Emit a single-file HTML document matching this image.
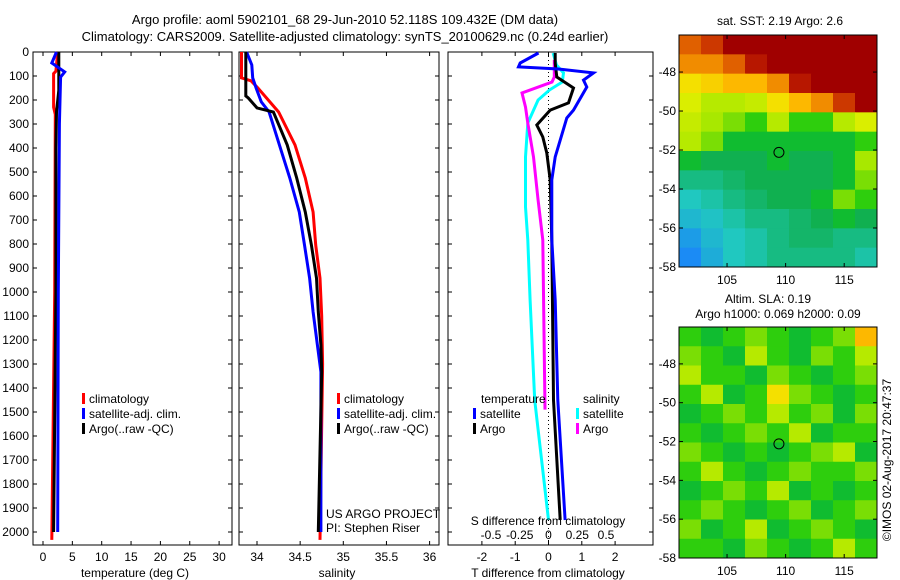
<!DOCTYPE html>
<html><head><meta charset="utf-8"><style>
body{margin:0;background:#fff}
svg{display:block;font-family:"Liberation Sans",sans-serif;font-size:12px}
</style></head><body>
<svg id="fig" width="900" height="580" viewBox="0 0 900 580">
<text x="345" y="24" text-anchor="middle" font-size="13">Argo profile: aoml 5902101_68 29-Jun-2010 52.118S 109.432E (DM data)</text>
<text x="345" y="41" text-anchor="middle" font-size="13">Climatology: CARS2009. Satellite-adjusted climatology: synTS_20100629.nc (0.24d earlier)</text>
<g id="g"></g>
</svg>
<script>
// ---- temperature panel data (depth m, value degC)
const tClimD=[0,80,90,130,230,260,1000,2033];
const tClimV=[2.5,2.2,1.8,1.8,1.8,2.1,2.0,1.5];
const tSatD=[0,46,83,104,300,1000,2000];
const tSatV=[2.3,1.5,3.7,3.0,2.8,2.6,2.5];
const tArgoD=[0,160,250,400,1000,2000];
const tArgoV=[2.7,2.7,2.3,2.2,2.2,1.8];
// ---- salinity panel data
const sClimD=[0,108,120,150,250,387,525,667,804,942,1100,1300,2033];
const sClimV=[33.82,33.82,33.93,34.01,34.25,34.44,34.56,34.65,34.68,34.73,34.75,34.76,34.73];
const sSatD=[0,54,108,150,208,250,387,525,667,804,942,1083,1221,1333,2000];
const sSatV=[33.88,33.94,33.95,33.99,34.05,34.14,34.26,34.38,34.49,34.55,34.61,34.65,34.70,34.74,34.74];
const sArgoD=[0,183,192,233,250,387,525,667,804,942,1083,1221,1333,2000];
const sArgoV=[33.87,33.87,33.90,34.0,34.19,34.35,34.46,34.56,34.63,34.69,34.71,34.74,34.75,34.71];
// ---- difference panel data
const dTSatD=[4,46,62,71,87,117,146,242,275,437,533,783,1033,1450,1950];
const dTSatV=[-0.3,-0.85,-0.9,0.3,1.35,1.05,1.15,0.75,0.55,0.2,0.1,0.1,0.2,0.28,0.5];
const dTArgoD=[4,46,104,150,212,242,304,354,421,533,783,1450,1950];
const dTArgoV=[0.2,0.2,0.25,0.75,0.6,0.05,-0.35,-0.17,-0.05,0.05,0.1,0.15,0.35];
const dSSatD=[4,54,87,125,158,200,296,437,646,783,1033,1450,1950];
const dSSatV=[0.04,0.07,0.13,0.12,0.01,-0.09,-0.18,-0.2,-0.2,-0.18,-0.16,-0.12,0];
const dSArgoD=[33,104,125,171,229,296,437,617,783,1490];
const dSArgoV=[0.05,0.05,0.03,-0.23,-0.2,-0.18,-0.13,-0.09,-0.05,-0.03];
// ---- ticks
const depthTicks=[0,100,200,300,400,500,600,700,800,900,1000,1100,1200,1300,1400,1500,1600,1700,1800,1900,2000];
const tTicks=[0,5,10,15,20,25,30];
const sTicks=[34,34.5,35,35.5,36];
const sTickLabels=["34","34.5","35","35.5","36"];
const dTTicks=[-2,-1,0,1,2];
const dSTicks=[-0.5,-0.25,0,0.25,0.5];
const latTicks=[-48,-50,-52,-54,-56,-58];
const lonTicks=[105,110,115];
// ---- maps (rows north->south, cols west->east, normalised colour value)
const sstGrid=[
[0.85,0.9,1,1,1,1,1,1,1],
[0.8,0.8,0.85,0.95,1,1,1,1,1],
[0.7,0.72,0.75,0.75,0.8,0.95,1,1,1],
[0.65,0.6,0.6,0.62,0.7,0.75,0.8,0.9,1],
[0.62,0.58,0.55,0.5,0.6,0.5,0.5,0.6,0.65],
[0.6,0.55,0.45,0.45,0.45,0.45,0.45,0.45,0.5],
[0.45,0.42,0.42,0.42,0.45,0.42,0.42,0.45,0.58],
[0.38,0.38,0.4,0.42,0.42,0.42,0.42,0.45,0.55],
[0.33,0.35,0.38,0.4,0.42,0.42,0.45,0.55,0.5],
[0.3,0.32,0.35,0.38,0.38,0.4,0.42,0.45,0.42],
[0.25,0.3,0.33,0.35,0.38,0.4,0.4,0.38,0.38],
[0.22,0.28,0.33,0.35,0.38,0.38,0.38,0.38,0.35]];
const slaGrid=[
[0.5,0.45,0.5,0.55,0.5,0.45,0.5,0.55,0.75],
[0.55,0.5,0.45,0.6,0.5,0.45,0.55,0.5,0.6],
[0.6,0.5,0.5,0.45,0.55,0.5,0.45,0.5,0.55],
[0.5,0.6,0.45,0.5,0.7,0.55,0.5,0.45,0.5],
[0.45,0.5,0.55,0.5,0.6,0.5,0.55,0.45,0.55],
[0.5,0.45,0.5,0.55,0.5,0.6,0.45,0.5,0.5],
[0.55,0.5,0.45,0.5,0.45,0.5,0.55,0.6,0.45],
[0.5,0.6,0.5,0.45,0.5,0.55,0.5,0.5,0.55],
[0.45,0.5,0.55,0.5,0.6,0.45,0.5,0.45,0.5],
[0.5,0.55,0.5,0.45,0.5,0.55,0.45,0.5,0.55],
[0.55,0.45,0.5,0.6,0.45,0.5,0.55,0.5,0.45],
[0.5,0.5,0.45,0.55,0.5,0.45,0.5,0.6,0.5]];
const floatPos=[109.43,-52.12];

const NS="http://www.w3.org/2000/svg";
const G=document.getElementById('g');
function el(tag,attrs,parent){const e=document.createElementNS(NS,tag);for(const k in attrs)e.setAttribute(k,attrs[k]);(parent||G).appendChild(e);return e;}
function txt(x,y,s,anchor,parent){const t=el('text',{x:x,y:y,'text-anchor':anchor||'start'},parent);t.textContent=s;return t;}
const Y=d=>52+d*0.24;
const Y0=52,Y1=545;

function panel(x0,x1,name){
  const r=el('rect',{x:x0,y:Y0,width:x1-x0,height:Y1-Y0,fill:'none',stroke:'#000'});
  
  
  depthTicks.forEach(d=>{el('line',{x1:x0,x2:x0+4,y1:Y(d),y2:Y(d),stroke:'#000'});el('line',{x1:x1,x2:x1-4,y1:Y(d),y2:Y(d),stroke:'#000'});});
}
function line(D,V,X,color,name,w){
  const pts=D.map((d,i)=>X(V[i]).toFixed(1)+','+Y(d).toFixed(1)).join(' ');
  const p=el('polyline',{points:pts,fill:'none',stroke:color,'stroke-width':w||3});
  
  
}
depthTicks.forEach(d=>{const t=txt(29,Y(d)+4,String(d),'end');});

// Panel 1 temperature
const XT=v=>43+v*5.87;
panel(33,232,'temperature-panel');
tTicks.forEach(v=>{el('line',{x1:XT(v),x2:XT(v),y1:Y1,y2:Y1-4,stroke:'#000'});el('line',{x1:XT(v),x2:XT(v),y1:Y0,y2:Y0+4,stroke:'#000'});const t=txt(XT(v),561,String(v),'middle');});
line(tClimD,tClimV,XT,'#f00','temperature-climatology-line');
line(tArgoD,tArgoV,XT,'#000','temperature-argo-line');
line(tSatD,tSatV,XT,'#00f','temperature-satellite-line');
txt(135,577,'temperature (deg C)','middle');

function legend(x,y,items,key){
  items.forEach((it,i)=>{
    el('rect',{x:x,y:y+i*15-10,width:3,height:11,fill:it[1]});
    const t=txt(x+7,y+i*15,it[0]);
    
    
  });
}
const legItems=[['climatology','#f00'],['satellite-adj. clim.','#00f'],['Argo(..raw -QC)','#000']];
legend(82,403,legItems,'temperature');

// Panel 2 salinity
const XS=v=>257+(v-34)*86.3;
panel(239,439,'salinity-panel');
sTicks.forEach((v,i)=>{el('line',{x1:XS(v),x2:XS(v),y1:Y1,y2:Y1-4,stroke:'#000'});el('line',{x1:XS(v),x2:XS(v),y1:Y0,y2:Y0+4,stroke:'#000'});const t=txt(XS(v),561,sTickLabels[i],'middle');});
line(sClimD,sClimV,XS,'#f00','salinity-climatology-line');
line(sSatD,sSatV,XS,'#00f','salinity-satellite-line');
line(sArgoD,sArgoV,XS,'#000','salinity-argo-line');
legend(337,403,legItems,'salinity');
txt(337,577,'salinity','middle');
txt(326,518,'US ARGO PROJECT');
txt(326,532,'PI: Stephen Riser');

// Panel 3 differences
const XD=v=>548.5+v*33.3;
const XDS=v=>548.5+v*115;
panel(448,653,'difference-panel');
el('line',{x1:XD(0),x2:XD(0),y1:Y0,y2:Y1,stroke:'#000','stroke-dasharray':'1,3'});
dTTicks.forEach(v=>{el('line',{x1:XD(v),x2:XD(v),y1:Y1,y2:Y1-4,stroke:'#000'});el('line',{x1:XD(v),x2:XD(v),y1:Y0,y2:Y0+4,stroke:'#000'});const t=txt(XD(v),561,String(v),'middle');});
dSTicks.forEach(v=>{const t=txt(XDS(v),539,String(v),'middle');});
line(dSSatD,dSSatV,XDS,'#0ff','s-diff-satellite-line');
line(dSArgoD,dSArgoV,XDS,'#f0f','s-diff-argo-line');
line(dTArgoD,dTArgoV,XD,'#000','t-diff-argo-line');
line(dTSatD,dTSatV,XD,'#00f','t-diff-satellite-line');
txt(481,403,'temperature');
txt(583,403,'salinity');
legend(473,418,[['satellite','#00f'],['Argo','#000']],'t-diff');
legend(576,418,[['satellite','#0ff'],['Argo','#f0f']],'s-diff');
txt(548,525,'S difference from climatology','middle');
txt(548,577,'T difference from climatology','middle');

// maps
const stops=[[0,'#0040ff'],[0.2,'#1a80ff'],[0.33,'#20c8c0'],[0.42,'#10b050'],[0.48,'#10c810'],[0.58,'#a8e800'],[0.68,'#f0f000'],[0.76,'#ffb000'],[0.85,'#e06000'],[0.93,'#c02000'],[1,'#a00000']];
function hex(c){return [1,3,5].map(i=>parseInt(c.substr(i,2),16));}
function cmap(v){for(let i=1;i<stops.length;i++){if(v<=stops[i][0]){const a=stops[i-1],b=stops[i],f=(v-a[0])/(b[0]-a[0]);const A=hex(a[1]),B=hex(b[1]);return 'rgb('+A.map((x,j)=>Math.round(x+(B[j]-x)*f)).join(',')+')';}}return stops[stops.length-1][1];}
function map(x0,x1,y0,y1,latTop,latBot,grid,name){
  const lonL=100.9,lonR=117.8;
  const MX=lon=>x0+(lon-lonL)/(lonR-lonL)*(x1-x0);
  const MY=lat=>y0+(latTop-lat)/(latTop-latBot)*(y1-y0);
  const rows=grid.length,cols=grid[0].length;
  const ch=(latTop-latBot)/rows,cw=(lonR-lonL)/cols;
  grid.forEach((row,r)=>row.forEach((v,c)=>{
    const cell=el('rect',{x:MX(lonL+c*cw),y:MY(latTop-r*ch),width:MX(lonL+(c+1)*cw)-MX(lonL+c*cw)+0.5,height:MY(latTop-(r+1)*ch)-MY(latTop-r*ch)+0.5,fill:cmap(v)});
    
    
  }));
  const fr=el('rect',{x:x0,y:y0,width:x1-x0,height:y1-y0,fill:'none',stroke:'#000'});
  
  
  latTicks.forEach(l=>{el('line',{x1:x1,x2:x1-4,y1:MY(l),y2:MY(l),stroke:'#000'});el('line',{x1:x0,x2:x0+4,y1:MY(l),y2:MY(l),stroke:'#000'});const t=txt(x0-3,MY(l)+4,String(l),'end');});
  lonTicks.forEach(l=>{el('line',{x1:MX(l),x2:MX(l),y1:y1,y2:y1-4,stroke:'#000'});el('line',{x1:MX(l),x2:MX(l),y1:y0,y2:y0+4,stroke:'#000'});const t=txt(MX(l),y1+17,String(l),'middle');});
  const c=el('circle',{cx:MX(floatPos[0]),cy:MY(floatPos[1]),r:5,fill:'none',stroke:'#000'});
  
  
}
map(679,877,35,267,-46.1,-58,sstGrid,'sst-map');
map(679,877,327,558,-46.1,-58,slaGrid,'sla-map');
txt(780,25,'sat. SST: 2.19 Argo: 2.6','middle');
txt(768,303,'Altim. SLA: 0.19','middle');
txt(778,318,'Argo h1000: 0.069 h2000: 0.09','middle');
const cp=txt(0,0,'©IMOS 02-Aug-2017 20:47:37','middle');
cp.setAttribute('transform','translate(891,460) rotate(-90)');


</script>
</body></html>
